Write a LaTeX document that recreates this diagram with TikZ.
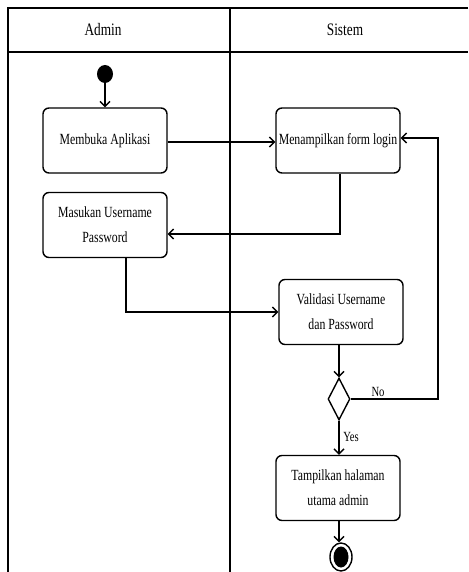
\documentclass[tikz,border=0pt]{standalone}
\usepackage{fontspec}
\setmainfont{Liberation Serif}[FakeStretch=0.76]
\usetikzlibrary{arrows.meta,shapes.geometric}
\tikzset{
  lane/.style={line width=1.4pt},
  flow/.style={line width=1.4pt,-{Straight Barb[length=5pt,width=10pt,line width=1.4pt]}},
  actbox/.style={draw,line width=1.4pt,rounded corners=6pt,minimum width=124pt,minimum height=65pt,
    align=center,font=\fontsize{15.5}{25}\selectfont,inner sep=0pt},
  lanehead/.style={font=\fontsize{17.5}{20}\selectfont},
  guard/.style={font=\fontsize{14}{16}\selectfont,inner sep=0pt},
  startnode/.style={ellipse,fill=black,minimum width=16pt,minimum height=18pt,inner sep=0pt},
  choice/.style={diamond,draw,line width=1.4pt,minimum width=22pt,minimum height=42pt,aspect=0.52,inner sep=0pt},
}
\begin{document}
\begin{tikzpicture}[x=1pt,y=-1pt]
\useasboundingbox (0,0) rectangle (468,572);

% swimlane frame
\draw[lane] (468,8) -- (8,8) -- (8,572);
\draw[lane] (8,52) -- (468,52);
\draw[lane] (230,8) -- (230,572);
\node[lanehead] (hadmin) at (103,30) {Admin};
\node[lanehead] (hsistem) at (345,30) {Sistem};

% activities
\node[startnode] (start) at (105,74) {};
\node[actbox] (buka) at (105,140.5) {Membuka Aplikasi};
\node[actbox] (form) at (338,140.5) {Menampilkan form login};
\node[actbox] (input) at (105,225) {Masukan Username\\Password};
\node[actbox] (valid) at (341,312) {Validasi Username\\dan Password};
\node[choice] (cek) at (339,399) {};
\node[actbox] (utama) at (338,488) {Tampilkan halaman\\utama admin};
\node[ellipse,draw,line width=1.4pt,minimum width=22pt,minimum height=28pt,inner sep=0pt] (finish) at (341,557) {};
\node[ellipse,fill=black,minimum width=15pt,minimum height=21pt,inner sep=0pt] (finishdot) at (341,557) {};

% routing points
\coordinate (bukaline) at (0,142);
\coordinate (formdown) at (340,234);
\coordinate (inputdown) at (126,312);
\coordinate (noright) at (438,399);
\coordinate (noup) at (438,138);

% transitions
\draw[flow] (start) -- (buka);
\draw[flow] (buka.east |- bukaline) -- (form.west |- bukaline);
\draw[flow] (form.south -| formdown) -- (formdown) -- (input.east |- formdown);
\draw[flow] (input.south -| inputdown) -- (inputdown) -- (valid.west |- inputdown);
\draw[flow] (valid.south -| cek) -- (cek.north);
\draw[flow] (cek.east) -- (noright) -- (noup) -- (form.east |- noup);
\draw[flow] (cek.south) -- (utama.north -| cek);
\draw[flow] (utama.south -| cek) -- (finish.north -| cek);

% guards
\node[guard] (lno) at (378,392) {No};
\node[guard] (lyes) at (351,437) {Yes};
\end{tikzpicture}
\end{document}
